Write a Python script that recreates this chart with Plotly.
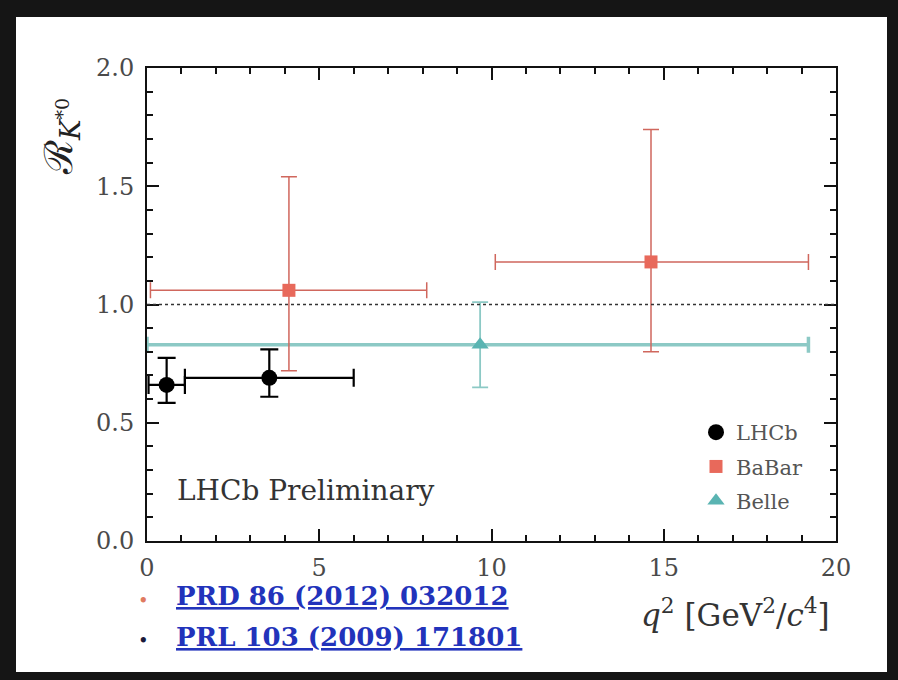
import plotly.graph_objects as go

# ---- data ----
experiments = ["LHCb", "BaBar", "Belle"]
lhcb_q2 = [0.57, 3.55]
lhcb_q2_lo = [0.045, 1.1]
lhcb_q2_hi = [1.1, 6.0]
lhcb_r = [0.66, 0.69]
lhcb_err_up = [0.114, 0.12]
lhcb_err_dn = [0.076, 0.08]

babar_q2 = [4.12, 14.63]
babar_q2_lo = [0.1, 10.11]
babar_q2_hi = [8.12, 19.2]
babar_r = [1.06, 1.18]
babar_err_up = [0.48, 0.56]
babar_err_dn = [0.34, 0.38]

belle_q2 = [9.67]
belle_q2_lo = [0.0]
belle_q2_hi = [19.2]
belle_r = [0.83]
belle_err_up = [0.18]
belle_err_dn = [0.18]

x_ticks = [0, 5, 10, 15, 20]
y_ticks = [0.0, 0.5, 1.0, 1.5, 2.0]
reference_r = 1.0

# ---- layout constants ----
W, H = 898, 680
L, R, T, B = 147, 62, 68, 139
PW, PH = W - L - R, H - T - B


def px(x):
    return (x - L) / PW


def py(y):
    return (H - B - y) / PH


SERIF = "DejaVu Serif, Liberation Serif, serif"

fig = go.Figure()

# white card on dark frame (first so it stays underneath)
fig.add_shape(type="rect", xref="paper", yref="paper",
              x0=px(16), x1=px(887), y0=py(672), y1=py(17),
              fillcolor="white", line=dict(width=0), layer="below")
# reference line at R = 1
fig.add_shape(type="line", xref="paper", yref="y", x0=0, x1=1,
              y0=reference_r, y1=reference_r,
              line=dict(color="#333333", width=1.5, dash="dot"), layer="above")


def add_series(name, q2, lo, hi, r, up, dn, color, barcolor, symbol, size, bw, cap, rank, xbw=None):
    fig.add_trace(go.Scatter(
        x=q2, y=r, mode="markers", name=name,
        legendgroup=name, legendrank=rank,
        marker=dict(color=color, symbol=symbol, size=size, line=dict(width=0)),
        error_x=dict(type="data", symmetric=False,
                     array=[h - q for h, q in zip(hi, q2)],
                     arrayminus=[q - l for l, q in zip(lo, q2)],
                     color=barcolor, thickness=xbw if xbw else bw, width=cap),
        error_y=dict(type="data", symmetric=False, array=up, arrayminus=dn,
                     color=barcolor, thickness=bw, width=cap),
    ))


add_series("Belle", belle_q2, belle_q2_lo, belle_q2_hi, belle_r, belle_err_up, belle_err_dn,
           "#5ab4b2", "#8cc9c5", "triangle-up", 15, 1.8, 8, 3, xbw=3.5)
add_series("BaBar", babar_q2, babar_q2_lo, babar_q2_hi, babar_r, babar_err_up, babar_err_dn,
           "#e8695b", "#d0675d", "square", 13, 1.5, 8, 2)
add_series("LHCb", lhcb_q2, lhcb_q2_lo, lhcb_q2_hi, lhcb_r, lhcb_err_up, lhcb_err_dn,
           "#000000", "#000000", "circle", 16, 2.2, 9, 1)

axis_common = dict(
    showline=True, linecolor="#111111", linewidth=2, mirror="allticks",
    ticks="inside", ticklen=12, tickwidth=2, tickcolor="#111111",
    showgrid=False, zeroline=False,
    tickfont=dict(family=SERIF, size=24, color="#4a4a4a"),
)

fig.update_xaxes(range=[0, 20], tickvals=x_ticks, ticktext=[str(v) for v in x_ticks],
                 ticklabelstandoff=4,
                 minor=dict(dtick=1, ticks="inside", ticklen=6, tickwidth=1.5, tickcolor="#111111"),
                 **axis_common)
fig.update_yaxes(range=[0, 2], tickvals=y_ticks, ticktext=[f"{v:.1f}" for v in y_ticks],
                 ticklabelstandoff=6,
                 minor=dict(dtick=0.1, ticks="inside", ticklen=6, tickwidth=1.5, tickcolor="#111111"),
                 **axis_common)

annotations = [
    dict(x=px(61), y=py(137), text="ℛ<sub><i>K</i><sup>*0</sup></sub>", textangle=-90,
         font=dict(family=SERIF, size=39, color="#222222"), xanchor="center", yanchor="middle"),
    dict(x=px(175), y=py(490), text="LHCb Preliminary",
         font=dict(family=SERIF, size=28, color="#333333"), xanchor="left", yanchor="middle"),
    dict(x=px(832), y=py(613), text="<i>q</i><sup>2</sup> [GeV<sup>2</sup>/<i>c</i><sup>4</sup>]",
         font=dict(family=SERIF, size=31, color="#333333"), xanchor="right", yanchor="middle"),
    dict(x=px(174), y=py(596), text="<b><u>PRD 86 (2012) 032012</u></b>",
         font=dict(family=SERIF, size=26, color="#2233bb"), xanchor="left", yanchor="middle"),
    dict(x=px(174), y=py(637), text="<b><u>PRL 103 (2009) 171801</u></b>",
         font=dict(family=SERIF, size=26, color="#2233bb"), xanchor="left", yanchor="middle"),
    dict(x=px(143), y=py(600), text="•", font=dict(family=SERIF, size=18, color="#e07a60"),
         xanchor="center", yanchor="middle"),
    dict(x=px(143), y=py(640), text="•", font=dict(family=SERIF, size=18, color="#1a1a3a"),
         xanchor="center", yanchor="middle"),
]
for a in annotations:
    a.update(xref="paper", yref="paper", showarrow=False)

fig.update_layout(
    width=W, height=H,
    margin=dict(l=L, r=R, t=T, b=B, pad=0),
    paper_bgcolor="#151515", plot_bgcolor="white",
    annotations=annotations,
    showlegend=True,
    legend=dict(x=px(696), y=py(412), xanchor="left", yanchor="top",
                bgcolor="rgba(0,0,0,0)", font=dict(family=SERIF, size=21, color="#555555"),
                tracegroupgap=4, itemsizing="trace"),
)

fig.write_html("out.html")
